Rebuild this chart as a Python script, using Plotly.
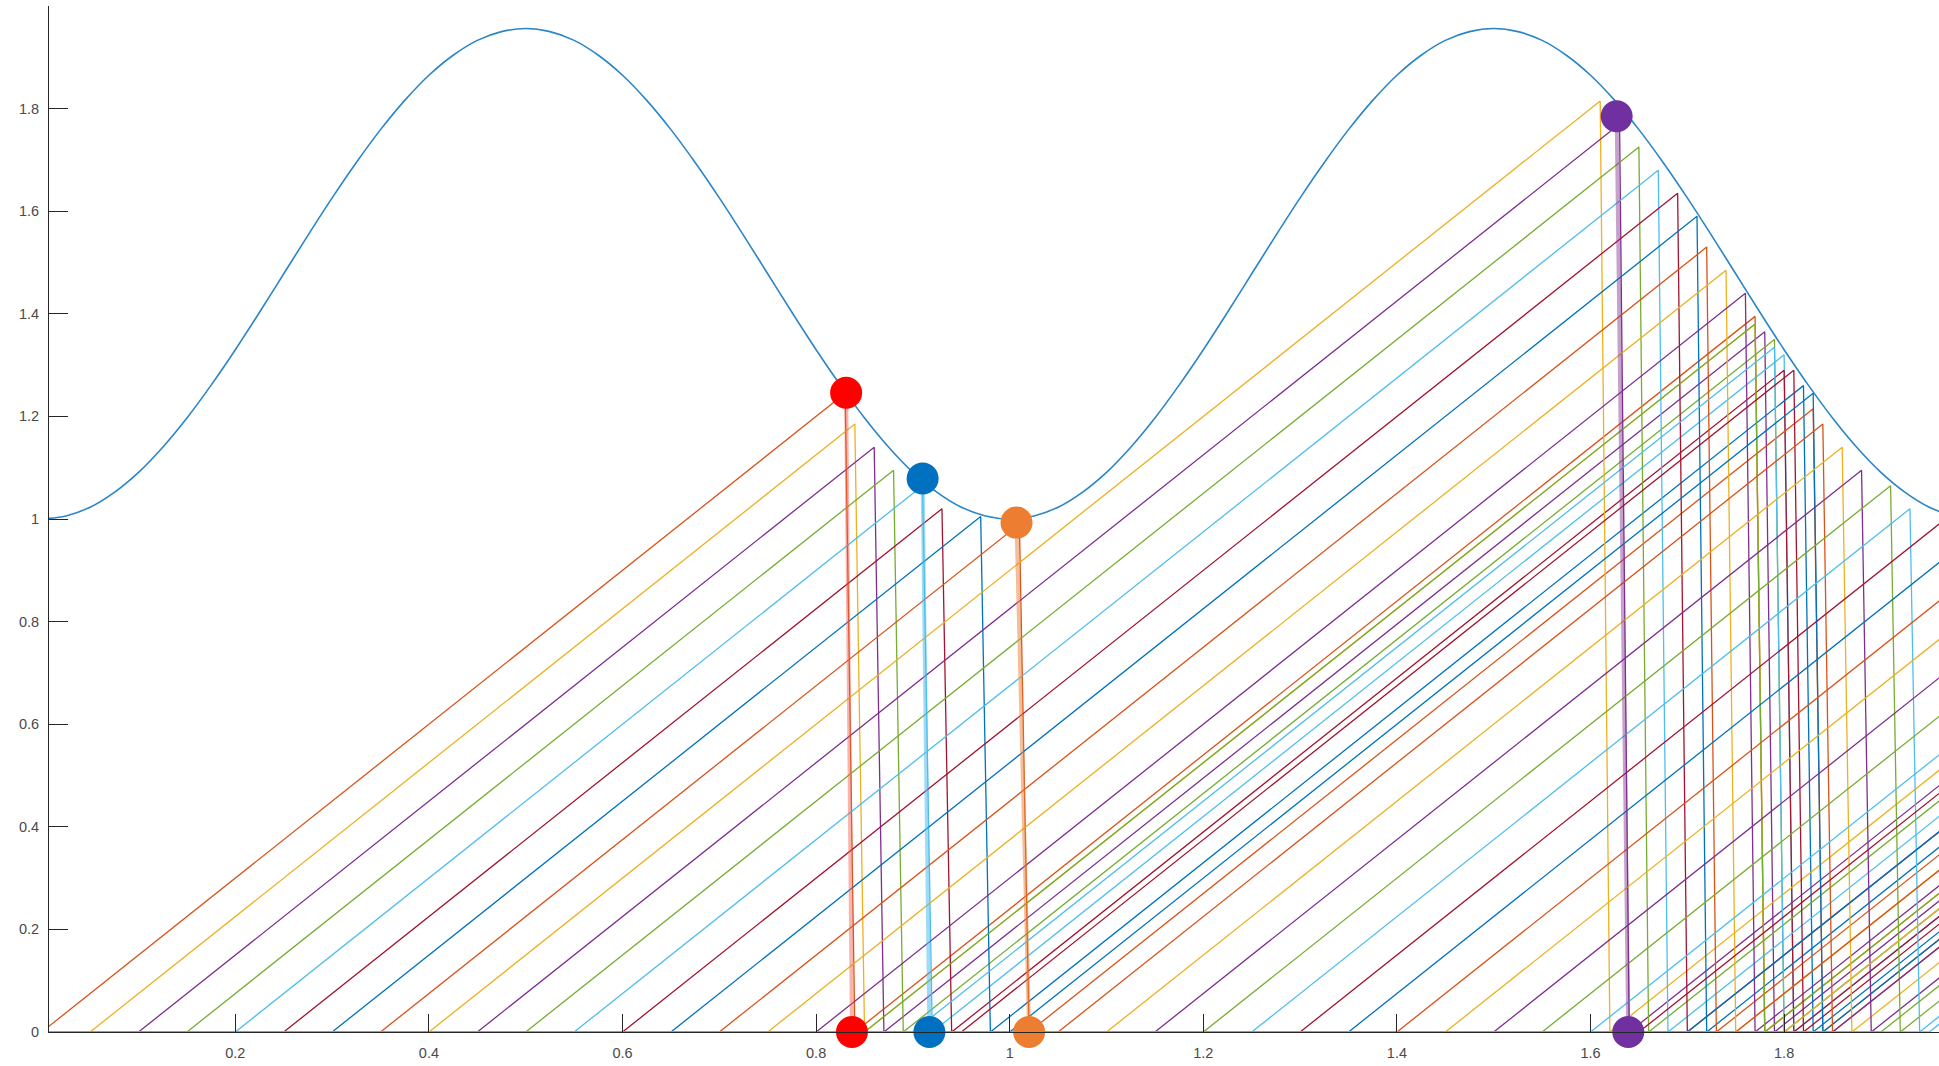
import plotly.graph_objects as go

# ---------------- data ----------------
# threshold curve (sampled every 0.025)
curve_x = [0.000, 0.025, 0.050, 0.075, 0.100, 0.125, 0.150, 0.175, 0.200, 0.225,
           0.250, 0.275, 0.300, 0.325, 0.350, 0.375, 0.400, 0.425, 0.450, 0.475,
           0.500, 0.525, 0.550, 0.575, 0.600, 0.625, 0.650, 0.675, 0.700, 0.725,
           0.750, 0.775, 0.800, 0.825, 0.850, 0.875, 0.900, 0.925, 0.950, 0.975,
           1.000, 1.025, 1.050, 1.075, 1.100, 1.125, 1.150, 1.175, 1.200, 1.225,
           1.250, 1.275, 1.300, 1.325, 1.350, 1.375, 1.400, 1.425, 1.450, 1.475,
           1.500, 1.525, 1.550, 1.575, 1.600, 1.625, 1.650, 1.675, 1.700, 1.725,
           1.750, 1.775, 1.800, 1.825, 1.850, 1.875, 1.900, 1.925, 1.950, 1.975,
           2.000]
curve_y = [1.000, 1.006, 1.023, 1.052, 1.091, 1.140, 1.197, 1.261, 1.330, 1.403,
           1.478, 1.553, 1.626, 1.695, 1.759, 1.816, 1.865, 1.904, 1.933, 1.950,
           1.956, 1.950, 1.933, 1.904, 1.865, 1.816, 1.759, 1.695, 1.626, 1.553,
           1.478, 1.403, 1.330, 1.261, 1.197, 1.140, 1.091, 1.052, 1.023, 1.006,
           1.000, 1.006, 1.023, 1.052, 1.091, 1.140, 1.197, 1.261, 1.330, 1.403,
           1.478, 1.553, 1.626, 1.695, 1.759, 1.816, 1.865, 1.904, 1.933, 1.950,
           1.956, 1.950, 1.933, 1.904, 1.865, 1.816, 1.759, 1.695, 1.626, 1.553,
           1.478, 1.403, 1.330, 1.261, 1.197, 1.140, 1.091, 1.052, 1.023, 1.006,
           1.000]

# sawtooth traces: start of ramp, peaks (x, y), reset points, value at x = 2
starts = [0.00, 0.05, 0.10, 0.15, 0.20, 0.25, 0.30, 0.35, 0.40, 0.45,
          0.50, 0.55, 0.60, 0.65, 0.70, 0.75, 0.80, 0.85, 0.90, 0.95,
          1.00, 1.05, 1.10, 1.15, 1.20, 1.25, 1.30, 1.35, 1.40, 1.45,
          1.50, 1.55, 1.60, 1.65, 1.70, 1.75, 1.80, 1.85, 1.90, 1.95]
peak_x = [[0.83, 1.77], [0.84, 1.77], [0.86, 1.78], [0.88, 1.79], [0.91, 1.80],
          [0.93, 1.80], [0.97, 1.82], [1.01, 1.83],
          [1.61], [1.63], [1.65], [1.67], [1.69], [1.71], [1.72], [1.74], [1.76],
          [1.77], [1.79], [1.81], [1.83], [1.84], [1.86], [1.88], [1.91], [1.93],
          [1.97],
          [], [], [], [], [], [], [], [], [], [], [], [], []]
peak_y = [[1.245, 1.395], [1.185, 1.380], [1.140, 1.365], [1.095, 1.350], [1.065, 1.320],
          [1.020, 1.290], [1.005, 1.260], [0.990, 1.215],
          [1.815], [1.770], [1.725], [1.680], [1.635], [1.590], [1.530], [1.485], [1.440],
          [1.380], [1.335], [1.290], [1.245], [1.185], [1.140], [1.095], [1.065], [1.020],
          [1.005],
          [], [], [], [], [], [], [], [], [], [], [], [], []]
reset_x = [[0.84, 1.78], [0.85, 1.78], [0.87, 1.79], [0.89, 1.80], [0.92, 1.81],
           [0.94, 1.81], [0.98, 1.83], [1.02, 1.84],
           [1.62], [1.64], [1.66], [1.68], [1.70], [1.72], [1.73], [1.75], [1.77],
           [1.78], [1.80], [1.82], [1.84], [1.85], [1.87], [1.89], [1.92], [1.94],
           [1.98],
           [], [], [], [], [], [], [], [], [], [], [], [], []]
end_x = 2.0
end_y = [0.330, 0.330, 0.315, 0.300, 0.285, 0.285, 0.255, 0.240, 0.570, 0.540,
         0.510, 0.480, 0.450, 0.420, 0.405, 0.375, 0.345, 0.330, 0.300, 0.270,
         0.240, 0.225, 0.195, 0.165, 0.120, 0.090, 0.030, 0.975, 0.900, 0.825,
         0.750, 0.675, 0.600, 0.525, 0.450, 0.375, 0.300, 0.225, 0.150, 0.075]

# highlighted firing events (dot on the curve, dot on the axis)
dot_top_x = [0.831, 0.910, 1.007, 1.627]
dot_top_y = [1.246, 1.079, 0.993, 1.785]
dot_bot_x = [0.837, 0.917, 1.020, 1.639]
dot_bot_y = [0.0, 0.0, 0.0, 0.0]
dot_colors = ["#FF0000", "#0070C0", "#ED7D31", "#7030A0"]
link_colors = ["rgba(240,90,70,0.45)", "rgba(77,190,238,0.55)",
               "rgba(237,125,49,0.5)", "rgba(126,47,142,0.45)"]

x_ticks = [0.2, 0.4, 0.6, 0.8, 1.0, 1.2, 1.4, 1.6, 1.8]
x_tick_text = ["0.2", "0.4", "0.6", "0.8", "1", "1.2", "1.4", "1.6", "1.8"]
y_ticks = [0, 0.2, 0.4, 0.6, 0.8, 1.0, 1.2, 1.4, 1.6, 1.8]
y_tick_text = ["0", "0.2", "0.4", "0.6", "0.8", "1", "1.2", "1.4", "1.6", "1.8"]

palette = ["#0072BD", "#D95319", "#EDB120", "#7E2F8E", "#77AC30", "#4DBEEE", "#A2142F"]

# ---------------- figure ----------------
fig = go.Figure()

fig.add_trace(go.Scatter(x=curve_x, y=curve_y, mode="lines",
                         line=dict(color="#2a86c8", width=1.6, shape="spline"),
                         hoverinfo="skip"))

for k, s in enumerate(starts):
    xs = [0.0] if s > 0 else []
    ys = [0.0] if s > 0 else []
    xs.append(s)
    ys.append(0.0)
    for px, py, rx in zip(peak_x[k], peak_y[k], reset_x[k]):
        xs += [px, rx]
        ys += [py, 0.0]
    xs.append(end_x)
    ys.append(end_y[k])
    fig.add_trace(go.Scatter(x=xs, y=ys, mode="lines",
                             line=dict(color=palette[(k + 1) % 7], width=1.3),
                             hoverinfo="skip"))

for i in range(len(dot_colors)):
    fig.add_trace(go.Scatter(x=[dot_top_x[i], dot_bot_x[i]], y=[dot_top_y[i], dot_bot_y[i]],
                             mode="lines", line=dict(color=link_colors[i], width=4),
                             hoverinfo="skip"))

fig.add_trace(go.Scatter(x=dot_top_x + dot_bot_x, y=dot_top_y + dot_bot_y, mode="markers",
                         marker=dict(size=32, color=dot_colors + dot_colors, line=dict(width=0)),
                         cliponaxis=False, hoverinfo="skip"))

axis_font = dict(family="Liberation Sans, Arial, sans-serif", size=14.5, color="#4a4a4a")
fig.update_layout(
    width=1939, height=1066,
    margin=dict(l=49, r=0, t=6, b=34),
    paper_bgcolor="white", plot_bgcolor="white",
    showlegend=False,
    xaxis=dict(range=[0.0075, 1.960], showgrid=False, zeroline=False,
               showline=True, linecolor="#262626", linewidth=1,
               ticks="inside", ticklen=18, tickwidth=1, tickcolor="#262626",
               tickvals=x_ticks, ticktext=x_tick_text, tickfont=axis_font,
               ticklabelstandoff=8),
    yaxis=dict(range=[0, 2], showgrid=False, zeroline=False,
               showline=True, linecolor="#262626", linewidth=1,
               ticks="inside", ticklen=19, tickwidth=1, tickcolor="#262626",
               tickvals=y_ticks, ticktext=y_tick_text, tickfont=axis_font,
               ticklabelstandoff=6),
)

fig.write_html("out.html")
